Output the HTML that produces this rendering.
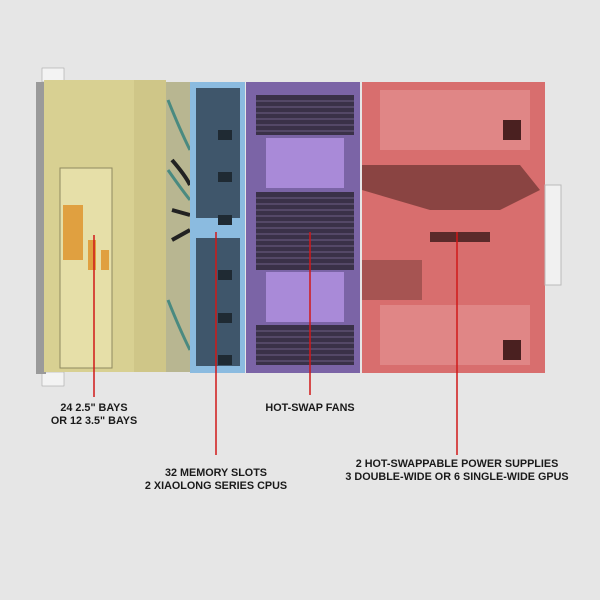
<!DOCTYPE html>
<html><head><meta charset="utf-8"><style>
html,body{margin:0;padding:0;background:#e5e5e5;}
svg{display:block;}
text{font-family:"Liberation Sans",sans-serif;font-weight:bold;font-size:10.8px;fill:#1a1a1a;text-anchor:middle;}
</style></head><body>
<svg width="600" height="600" viewBox="0 0 600 600">
<rect width="600" height="600" fill="#e6e6e6"/>
<!-- front ears -->
<rect x="42" y="68" width="22" height="14" fill="#f3f3f3" stroke="#999" stroke-width="0.5"/>
<rect x="42" y="372" width="22" height="14" fill="#f3f3f3" stroke="#999" stroke-width="0.5"/>
<rect x="36" y="82" width="10" height="292" fill="#9a9a9a"/>
<!-- yellow drive area -->
<rect x="44" y="80" width="122" height="292" fill="#d8d092"/>
<rect x="134" y="80" width="32" height="292" fill="#cfc688"/>
<rect x="60" y="168" width="52" height="200" fill="#e6dfa8" stroke="#8f8a60" stroke-width="1"/>
<rect x="63" y="205" width="20" height="55" fill="#e0a040"/>
<rect x="88" y="240" width="8" height="30" fill="#e0a040"/>
<rect x="101" y="250" width="8" height="20" fill="#e0a040"/>
<!-- cables zone -->
<rect x="166" y="82" width="24" height="290" fill="#b8b691"/>
<path d="M168 100 Q180 130 190 150 M168 170 Q182 190 190 200 M168 300 Q180 330 190 350" stroke="#4a8a80" stroke-width="3" fill="none"/>
<path d="M172 160 Q185 175 190 185 M172 210 L190 215 M172 240 L190 230" stroke="#222" stroke-width="4" fill="none"/>
<!-- blue fan area -->
<rect x="190" y="82" width="55" height="291" fill="#8bbbe0"/>
<rect x="196" y="88" width="44" height="130" fill="#3f566b"/>
<rect x="196" y="238" width="44" height="128" fill="#3f566b"/>
<g fill="#1f2a33">
<rect x="218" y="130" width="14" height="10"/><rect x="218" y="172" width="14" height="10"/><rect x="218" y="215" width="14" height="10"/>
<rect x="218" y="270" width="14" height="10"/><rect x="218" y="313" width="14" height="10"/><rect x="218" y="355" width="14" height="10"/>
</g>
<!-- purple area -->
<rect x="246" y="82" width="114" height="291" fill="#7b64a6"/>
<g fill="#3a3148">
<rect x="256" y="95" width="98" height="40"/>
<rect x="256" y="192" width="98" height="78"/>
<rect x="256" y="325" width="98" height="40"/>
</g>
<g stroke="#6e5f86" stroke-width="1">
<path d="M256 101H354M256 107H354M256 113H354M256 119H354M256 125H354M256 131H354"/>
<path d="M256 198H354M256 204H354M256 210H354M256 216H354M256 222H354M256 228H354M256 234H354M256 240H354M256 246H354M256 252H354M256 258H354M256 264H354"/>
<path d="M256 331H354M256 337H354M256 343H354M256 349H354M256 355H354M256 361H354"/>
</g>
<rect x="266" y="138" width="78" height="50" fill="#a98ad8"/>
<rect x="266" y="272" width="78" height="50" fill="#a98ad8"/>
<!-- red area -->
<rect x="362" y="82" width="183" height="291" fill="#d86e6e"/>
<rect x="545" y="185" width="16" height="100" fill="#f1f1f1" stroke="#bbb" stroke-width="1"/>
<rect x="380" y="90" width="150" height="60" fill="#e08686"/>
<rect x="380" y="305" width="150" height="60" fill="#e08686"/>
<path d="M362 165 L520 165 L540 190 L500 210 L430 210 L362 190Z" fill="#8a4442"/>
<rect x="430" y="232" width="60" height="10" fill="#5a2a2a"/>
<rect x="362" y="260" width="60" height="40" fill="#a65452"/>
<rect x="503" y="120" width="18" height="20" fill="#4a2020"/>
<rect x="503" y="340" width="18" height="20" fill="#4a2020"/>
<!-- red leader lines -->
<g stroke="#d01818" stroke-width="1.5">
<line x1="94" y1="235" x2="94" y2="397"/>
<line x1="216" y1="232" x2="216" y2="455"/>
<line x1="310" y1="232" x2="310" y2="395"/>
<line x1="457" y1="232" x2="457" y2="455"/>
</g>
<text x="94" y="411">24 2.5" BAYS</text>
<text x="94" y="424">OR 12 3.5" BAYS</text>
<text x="310" y="411">HOT-SWAP FANS</text>
<text x="216" y="476">32 MEMORY SLOTS</text>
<text x="216" y="489">2 XIAOLONG SERIES CPUS</text>
<text x="457" y="467">2 HOT-SWAPPABLE POWER SUPPLIES</text>
<text x="457" y="480">3 DOUBLE-WIDE OR 6 SINGLE-WIDE GPUS</text>
</svg>
</body></html>
